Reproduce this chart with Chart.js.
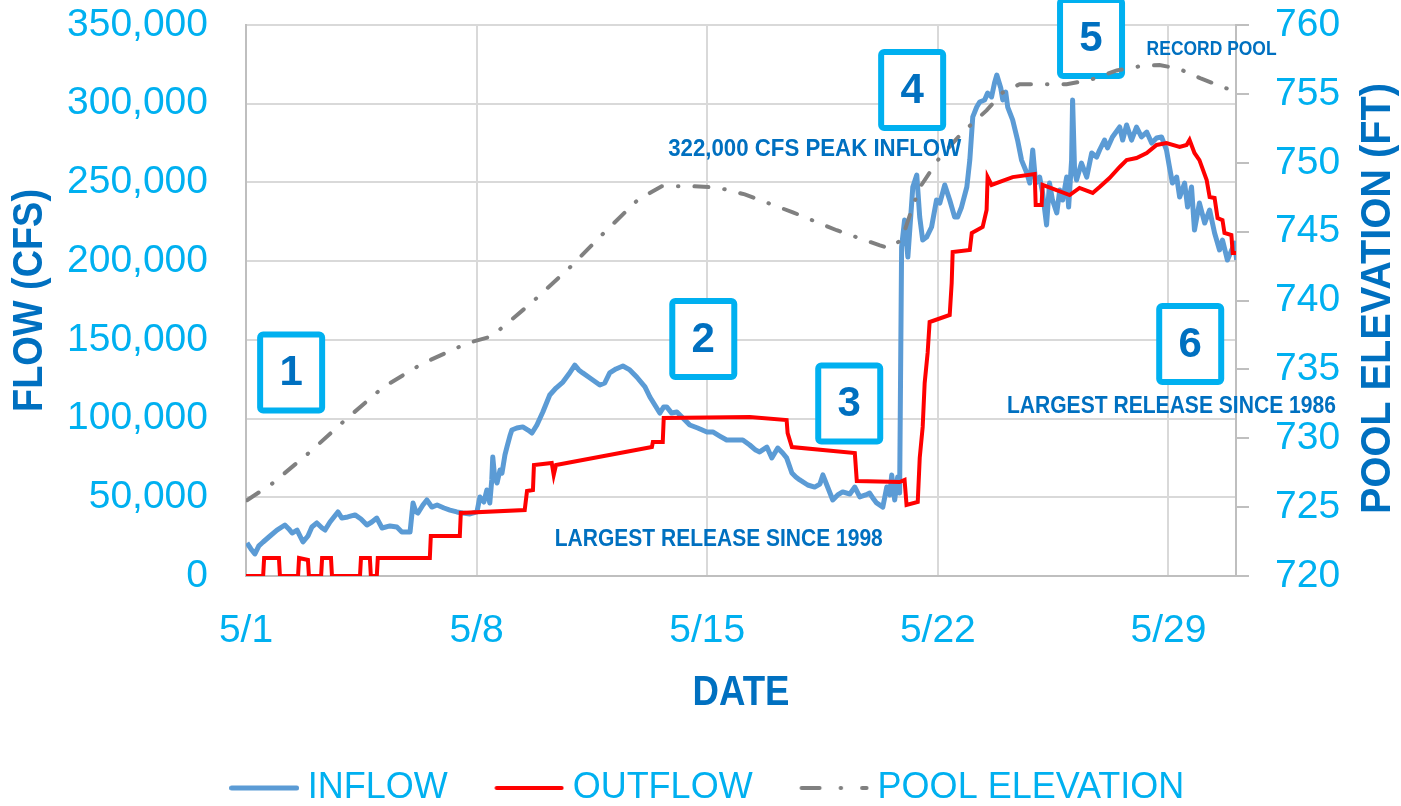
<!doctype html>
<html>
<head>
<meta charset="utf-8">
<title>May Inflow / Outflow / Pool Elevation</title>
<script src="https://cdn.jsdelivr.net/npm/chart.js@4.4.1/dist/chart.umd.min.js"></script>
<style>
  html, body { margin: 0; padding: 0; background: #ffffff; }
  #wrap { width: 1401px; height: 806px; }
</style>
</head>
<body>
<div id="wrap"><canvas id="flowChart" width="1401" height="806"></canvas></div>
<script>
const inflowDays = [0.03,0.15,0.27,0.39,0.52,0.73,0.94,1.18,1.30,1.40,1.55,1.73,1.88,2.00,2.15,2.31,2.40,2.55,2.79,2.91,
  3.09,3.31,3.49,3.67,3.82,3.97,4.13,4.37,4.58,4.73,4.98,5.07,5.16,5.22,5.37,5.49,5.64,5.80,6.01,6.19,
  6.40,6.58,6.80,7.01,7.10,7.22,7.31,7.40,7.46,7.49,7.55,7.62,7.71,7.77,7.86,7.92,8.01,8.07,8.22,8.40,
  8.56,8.68,8.83,9.01,9.22,9.41,9.62,9.80,9.98,10.10,10.22,10.44,10.74,10.89,11.04,11.23,11.44,11.65,11.86,12.11,
  12.26,12.41,12.56,12.68,12.77,12.92,13.08,13.26,13.47,13.71,13.99,14.17,14.38,14.59,14.84,15.08,15.29,15.47,15.59,15.81,
  15.96,16.14,16.29,16.41,16.57,16.69,16.81,17.05,17.26,17.42,17.51,17.63,17.81,17.96,18.11,18.33,18.48,18.63,18.81,18.93,
  19.05,19.14,19.33,19.45,19.54,19.60,19.69,19.78,19.84,19.90,
  19.99,20.09,20.24,20.36,20.45,20.54,20.66,20.81,20.96,21.06,21.21,21.36,21.51,21.60,21.72,21.88,21.97,22.06,22.18,22.27,
  22.42,22.51,22.63,22.72,22.79,22.91,22.97,23.06,23.12,23.27,23.42,23.54,23.70,23.79,23.88,23.97,24.09,24.18,24.30,24.39,
  24.48,24.61,24.70,24.79,24.91,24.97,25.06,25.09,25.15,25.21,25.36,25.52,25.67,25.82,25.91,26.06,26.15,26.30,26.52,26.61,
  26.73,26.88,27.03,27.18,27.34,27.49,27.64,27.79,27.94,28.03,28.12,28.25,28.34,28.49,28.58,28.70,28.79,28.94,29.10,29.25,
  29.40,29.55,29.64,29.79,30.01,30.07];
const inflowCfs = [21000,17200,14000,19100,21600,25400,29200,32400,29900,27300,29200,21600,25400,31100,33700,30500,29200,34300,40700,36800,
  37500,38800,36200,32400,34300,36800,30500,31800,31100,28000,28000,46400,40700,40000,45100,48300,43800,45100,43200,41900,
  40700,40000,39400,40700,50200,47000,54600,46400,61000,75600,62300,59100,67300,65400,76900,81900,88900,92700,94000,94700,
  92700,90800,95900,104200,115000,119400,123200,128300,134000,130900,129000,125800,121300,122600,129000,131500,133400,130900,126400,120100,
  113700,108600,103500,107400,107400,103500,104200,100400,95900,94000,91500,91500,88900,86400,86400,86400,83200,80000,78800,81900,
  75000,81300,78100,75000,65400,62900,61000,57800,56500,58400,64200,57800,48300,51500,53400,52100,56500,50200,51500,52700,
  48900,46400,43800,56500,51500,64200,48300,62900,52700,209000,
  226100,202600,247100,254700,228000,213400,215300,221700,238800,236900,248400,238800,228000,228000,234400,247100,264200,291600,297900,301100,
  302400,306800,304300,313200,318200,310000,302400,307400,297900,289700,276900,264200,256000,249600,270600,249600,253400,243300,223000,249600,
  238800,230600,245200,238800,253400,234400,264200,302400,257900,251500,262300,253400,268700,266100,270600,276900,271900,278900,285200,276900,
  286500,276900,285200,278900,282000,275000,278200,278900,270600,259800,249600,253400,240700,249600,234400,247100,219800,236900,224200,232500,
  217900,207100,213400,200700,211500,200700];

const outflowDays = [0,0.52,0.55,1.00,1.03,1.58,1.61,1.88,1.91,2.28,2.31,2.58,2.61,3.46,3.49,3.76,3.79,3.97,4.00,5.58,
  5.61,6.49,6.52,8.46,8.53,8.71,8.74,9.28,9.34,9.41,12.32,12.35,12.65,12.68,15.29,16.41,16.44,16.57,18.48,18.54,
  19.84,19.99,20.05,20.39,20.45,20.54,20.60,20.69,20.75,21.36,21.42,21.45,21.97,22.03,22.36,22.48,22.51,22.63,23.27,23.94,
  23.97,24.15,24.18,25.00,25.30,25.70,25.91,26.21,26.52,26.73,27.03,27.34,27.64,27.94,28.34,28.55,28.64,28.79,28.94,29.16,
  29.25,29.40,29.49,29.64,29.70,29.91,29.95,30.07];
const outflowCfs = [0,0,11400,11400,0,0,11400,10200,0,0,11400,11400,0,0,11400,11400,0,0,11400,11400,
  25400,25400,40000,41900,54000,54600,70500,71800,64200,70500,81900,85100,85100,100400,101000,99100,90800,81900,78100,60300,
  59700,61000,45100,47000,75000,94700,122600,141700,161300,165800,186100,205800,207100,217900,221700,232500,253400,248400,253400,255400,
  235700,235700,248400,242000,246500,243300,247100,252800,259800,264200,265500,268700,273800,275000,272500,273800,277000,268700,264200,251500,
  240700,240100,227400,226100,217900,216600,205200,205200];

const poolDays = [0.03,0.79,1.94,3.00,4.16,5.34,6.71,7.46,8.65,9.83,10.86,11.89,12.62,13.50,14.32,15.14,16.60,17.93,19.24,19.51,
  19.90,20.15,20.45,21.06,21.75,22.48,22.97,23.48,24.91,25.61,26.43,27.12,27.73,28.34,29.00,29.76,30.03];
const poolFt = [725.5,726.7,729.0,731.3,733.7,735.4,736.9,737.4,739.8,742.4,744.9,747.3,748.3,748.3,748.2,747.7,746.4,745.1,744.0,743.8,
  744.4,746.2,748.2,750.4,752.2,753.8,755.1,755.7,755.7,756.0,756.7,757.0,757.1,756.8,756.1,755.4,755.2];

const dateTicks = ['5/1', '5/8', '5/15', '5/22', '5/29'];
const seriesNames = ['INFLOW', 'OUTFLOW', 'POOL ELEVATION'];

// numbered call-out boxes and notes, placed in data units (day, cfs)
const calloutBoxes = [
  { label: '1', day: 1.37, cfs: 129300 },
  { label: '2', day: 13.88, cfs: 150500 },
  { label: '3', day: 18.31, cfs: 109600 },
  { label: '4', day: 20.22, cfs: 308700 },
  { label: '5', day: 25.65, cfs: 341700 },
  { label: '6', day: 28.66, cfs: 147400 }
];
const notes = [
  { text: '322,000 CFS PEAK INFLOW', day: 17.26, cfs: 270600, width: 293, size: 23 },
  { text: 'RECORD POOL', day: 29.31, cfs: 334800, width: 130, size: 21 },
  { text: 'LARGEST RELEASE SINCE 1998', day: 14.35, cfs: 22900, width: 328, size: 23 },
  { text: 'LARGEST RELEASE SINCE 1986', day: 28.09, cfs: 107300, width: 329, size: 23 }
];

const toPoints = (xs, ys) => xs.map((x, i) => ({ x, y: ys[i] }));

// little canvases used as legend symbols so the dash pattern shows
function lineSwatch(color, width, dash) {
  const c = document.createElement('canvas');
  c.width = 70; c.height = 10;
  const g = c.getContext('2d');
  g.strokeStyle = color;
  g.lineWidth = width;
  g.lineCap = 'round';
  g.setLineDash(dash);
  g.beginPath();
  g.moveTo(2.5, 5);
  g.lineTo(67.5, 5);
  g.stroke();
  return c;
}

// fixed axis boxes; the tick padding would otherwise push the plot top down
function fixWidth(w) {
  return (scale) => {
    scale.width = w;
    scale.paddingTop = 0;
    scale.paddingBottom = 0;
  };
}

const calloutPlugin = {
  id: 'callouts',
  afterLayout(chart) {
    // nudge the centred legend row a little to the right, as in the original
    chart.legend.left += 22;
  },
  beforeDatasetsDraw(chart) {
    const { ctx, scales: { x, y } } = chart;
    ctx.save();
    calloutBoxes.forEach(b => {
      const cx = x.getPixelForValue(b.day);
      const cy = y.getPixelForValue(b.cfs);
      ctx.beginPath();
      ctx.roundRect(cx - 31, cy - 38, 62, 76, 3);
      ctx.fillStyle = '#ffffff';
      ctx.fill();
      ctx.lineWidth = 6;
      ctx.strokeStyle = '#00B0F0';
      ctx.stroke();
      ctx.fillStyle = '#0070C0';
      ctx.font = 'bold 42px "Liberation Sans", Arial, sans-serif';
      ctx.textAlign = 'center';
      ctx.textBaseline = 'middle';
      ctx.fillText(b.label, cx, cy + 1);
    });
    ctx.restore();
  },
  afterDatasetsDraw(chart) {
    const { ctx, scales: { x, y } } = chart;
    ctx.save();
    ctx.fillStyle = '#0070C0';
    ctx.textAlign = 'center';
    ctx.textBaseline = 'middle';
    notes.forEach(n => {
      ctx.font = `bold ${n.size}px "Liberation Sans", Arial, sans-serif`;
      ctx.fillText(n.text, x.getPixelForValue(n.day), y.getPixelForValue(n.cfs), n.width);
    });
    ctx.restore();
  },
  afterDraw(chart) {
    // axis titles drawn by hand: the right one reads bottom-to-top like the left
    const { ctx, chartArea } = chart;
    const midY = (chartArea.top + chartArea.bottom) / 2;
    ctx.save();
    ctx.fillStyle = '#0070C0';
    ctx.textAlign = 'center';
    ctx.textBaseline = 'middle';
    ctx.font = 'bold 42px "Liberation Sans", Arial, sans-serif';
    ctx.fillText('DATE', (chartArea.left + chartArea.right) / 2, 693, 97);
    ctx.translate(30, midY);
    ctx.rotate(-Math.PI / 2);
    ctx.fillText('FLOW (CFS)', 0, 0, 223);
    ctx.restore();
    ctx.save();
    ctx.fillStyle = '#0070C0';
    ctx.textAlign = 'center';
    ctx.textBaseline = 'middle';
    ctx.font = 'bold 42px "Liberation Sans", Arial, sans-serif';
    ctx.translate(1378, midY - 2);
    ctx.rotate(-Math.PI / 2);
    ctx.fillText('POOL ELEVATION (FT)', 0, 0, 431);
    ctx.restore();
  }
};

const tickColor = '#00B0F0';
const gridColor = '#d9d9d9';
const axisColor = '#bfbfbf';

new Chart(document.getElementById('flowChart'), {
  type: 'line',
  data: {
    datasets: [
      {
        label: seriesNames[0],
        data: toPoints(inflowDays, inflowCfs),
        yAxisID: 'y',
        borderColor: '#5B9BD5',
        backgroundColor: '#5B9BD5',
        borderWidth: 5,
        borderJoinStyle: 'round',
        pointRadius: 0,
        pointStyle: lineSwatch('#5B9BD5', 5, []),
        order: 3
      },
      {
        label: seriesNames[1],
        data: toPoints(outflowDays, outflowCfs),
        yAxisID: 'y',
        borderColor: '#FF0000',
        backgroundColor: '#FF0000',
        borderWidth: 4,
        pointRadius: 0,
        pointStyle: lineSwatch('#FF0000', 4, []),
        order: 2
      },
      {
        label: seriesNames[2],
        data: toPoints(poolDays, poolFt),
        yAxisID: 'y2',
        borderColor: '#808080',
        backgroundColor: '#808080',
        borderWidth: 4,
        borderDash: [14, 16, 0.5, 16],
        borderCapStyle: 'round',
        pointRadius: 0,
        pointStyle: lineSwatch('#808080', 4, [18, 21, 0.5, 21]),
        order: 1
      }
    ]
  },
  options: {
    responsive: false,
    animation: false,
    devicePixelRatio: 1,
    layout: { autoPadding: false, padding: { top: 25, left: 0, right: 0, bottom: -10 } },
    plugins: {
      tooltip: { enabled: false },
      legend: {
        position: 'bottom',
        labels: {
          usePointStyle: true,
          pointStyleWidth: 51,
          padding: 56,
          color: tickColor,
          font: { family: '"Liberation Sans", Arial, sans-serif', size: 36 },
          sort: (a, b) => a.datasetIndex - b.datasetIndex
        }
      }
    },
    scales: {
      x: {
        type: 'linear',
        min: 0,
        max: 30.05,
        afterFit: (scale) => {
          scale.height = 138;
          scale.paddingLeft = 0;
          scale.paddingRight = 0;
        },
        grid: { color: gridColor, lineWidth: 2, drawTicks: false },
        border: { color: axisColor, width: 2 },
        ticks: {
          stepSize: 7,
          includeBounds: false,
          padding: 32,
          color: tickColor,
          font: { family: '"Liberation Sans", Arial, sans-serif', size: 39 },
          callback: (v) => dateTicks[v / 7] ?? ''
        }
      },
      y: {
        position: 'left',
        min: 0,
        max: 350000,
        afterFit: fixWidth(246),
        grid: { color: gridColor, lineWidth: 2, drawTicks: false },
        border: { color: axisColor, width: 2 },
        ticks: {
          stepSize: 50000,
          padding: 38,
          color: tickColor,
          font: { family: '"Liberation Sans", Arial, sans-serif', size: 39 }
        }
      },
      y2: {
        position: 'right',
        min: 720,
        max: 760,
        afterFit: fixWidth(165),
        grid: { drawOnChartArea: false, color: axisColor, lineWidth: 2, tickLength: 13 },
        border: { color: axisColor, width: 2 },
        ticks: {
          stepSize: 5,
          padding: 26,
          color: tickColor,
          font: { family: '"Liberation Sans", Arial, sans-serif', size: 39 }
        }
      }
    }
  },
  plugins: [calloutPlugin]
});
</script>
</body>
</html>
